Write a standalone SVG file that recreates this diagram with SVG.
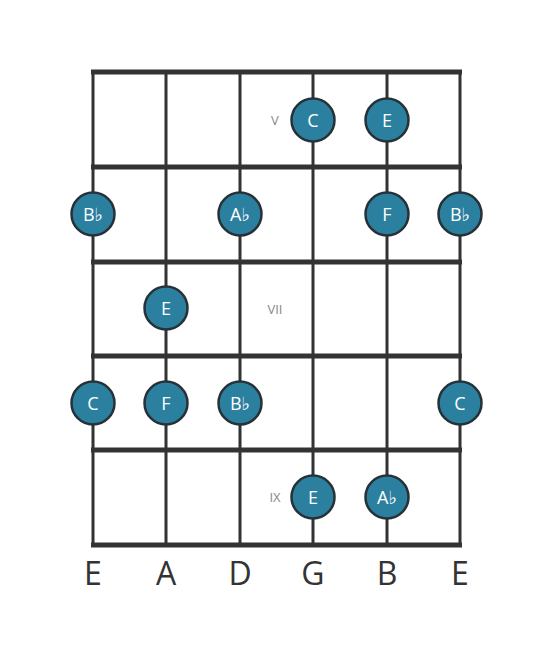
<svg xmlns="http://www.w3.org/2000/svg" width="553" height="656" viewBox="0 0 553 656">
<style>
.str{stroke:#333;stroke-width:3}
.fret{stroke:#333;stroke-width:5}
.note circle{fill:#2b809f;stroke:#263238;stroke-width:2.5}
.note text{fill:#fff;font-family:"Open Sans","DejaVu Sans",sans-serif;font-size:18px;text-anchor:middle;dominant-baseline:central}
.pos{fill:#888;font-family:"Open Sans","DejaVu Sans",sans-serif;font-size:13px;text-anchor:middle;dominant-baseline:central}
.sname{fill:#333;font-family:"Open Sans","DejaVu Sans",sans-serif;font-size:32px;text-anchor:middle}
</style>
<rect width="553" height="656" fill="#fff"/>
<g id="connectors">
<line class="str" x1="93" y1="72" x2="93" y2="545"/>
<line class="str" x1="166" y1="72" x2="166" y2="545"/>
<line class="str" x1="240" y1="72" x2="240" y2="545"/>
<line class="str" x1="313" y1="72" x2="313" y2="545"/>
<line class="str" x1="387" y1="72" x2="387" y2="545"/>
<line class="str" x1="460" y1="72" x2="460" y2="545"/>
<line class="fret" x1="91" y1="72" x2="462" y2="72"/>
<line class="fret" x1="91" y1="167" x2="462" y2="167"/>
<line class="fret" x1="91" y1="262" x2="462" y2="262"/>
<line class="fret" x1="91" y1="356" x2="462" y2="356"/>
<line class="fret" x1="91" y1="450" x2="462" y2="450"/>
<line class="fret" x1="91" y1="545" x2="462" y2="545"/>
</g>
<text class="pos" x="275" y="120">V</text>
<text class="pos" x="275" y="309">VII</text>
<text class="pos" x="275" y="497">IX</text>
<g id="n1" class="note"><circle cx="313" cy="120" r="21.5"/><text x="313" y="120">C</text></g>
<g id="n2" class="note"><circle cx="387" cy="120" r="21.5"/><text x="387" y="120">E</text></g>
<g id="n3" class="note"><circle cx="93" cy="214" r="21.5"/><text x="93" y="214">B♭</text></g>
<g id="n4" class="note"><circle cx="240" cy="214" r="21.5"/><text x="240" y="214">A♭</text></g>
<g id="n5" class="note"><circle cx="387" cy="214" r="21.5"/><text x="387" y="214">F</text></g>
<g id="n6" class="note"><circle cx="460" cy="214" r="21.5"/><text x="460" y="214">B♭</text></g>
<g id="n7" class="note"><circle cx="166" cy="308" r="21.5"/><text x="166" y="308">E</text></g>
<g id="n8" class="note"><circle cx="93" cy="403" r="21.5"/><text x="93" y="403">C</text></g>
<g id="n9" class="note"><circle cx="166" cy="403" r="21.5"/><text x="166" y="403">F</text></g>
<g id="n10" class="note"><circle cx="240" cy="403" r="21.5"/><text x="240" y="403">B♭</text></g>
<g id="n11" class="note"><circle cx="460" cy="403" r="21.5"/><text x="460" y="403">C</text></g>
<g id="n12" class="note"><circle cx="313" cy="497" r="21.5"/><text x="313" y="497">E</text></g>
<g id="n13" class="note"><circle cx="387" cy="497" r="21.5"/><text x="387" y="497">A♭</text></g>
<g id="labels">
<text class="sname" x="93" y="585">E</text>
<text class="sname" x="166" y="585">A</text>
<text class="sname" x="240" y="585">D</text>
<text class="sname" x="313" y="585">G</text>
<text class="sname" x="387" y="585">B</text>
<text class="sname" x="460" y="585">E</text>
</g>
</svg>
